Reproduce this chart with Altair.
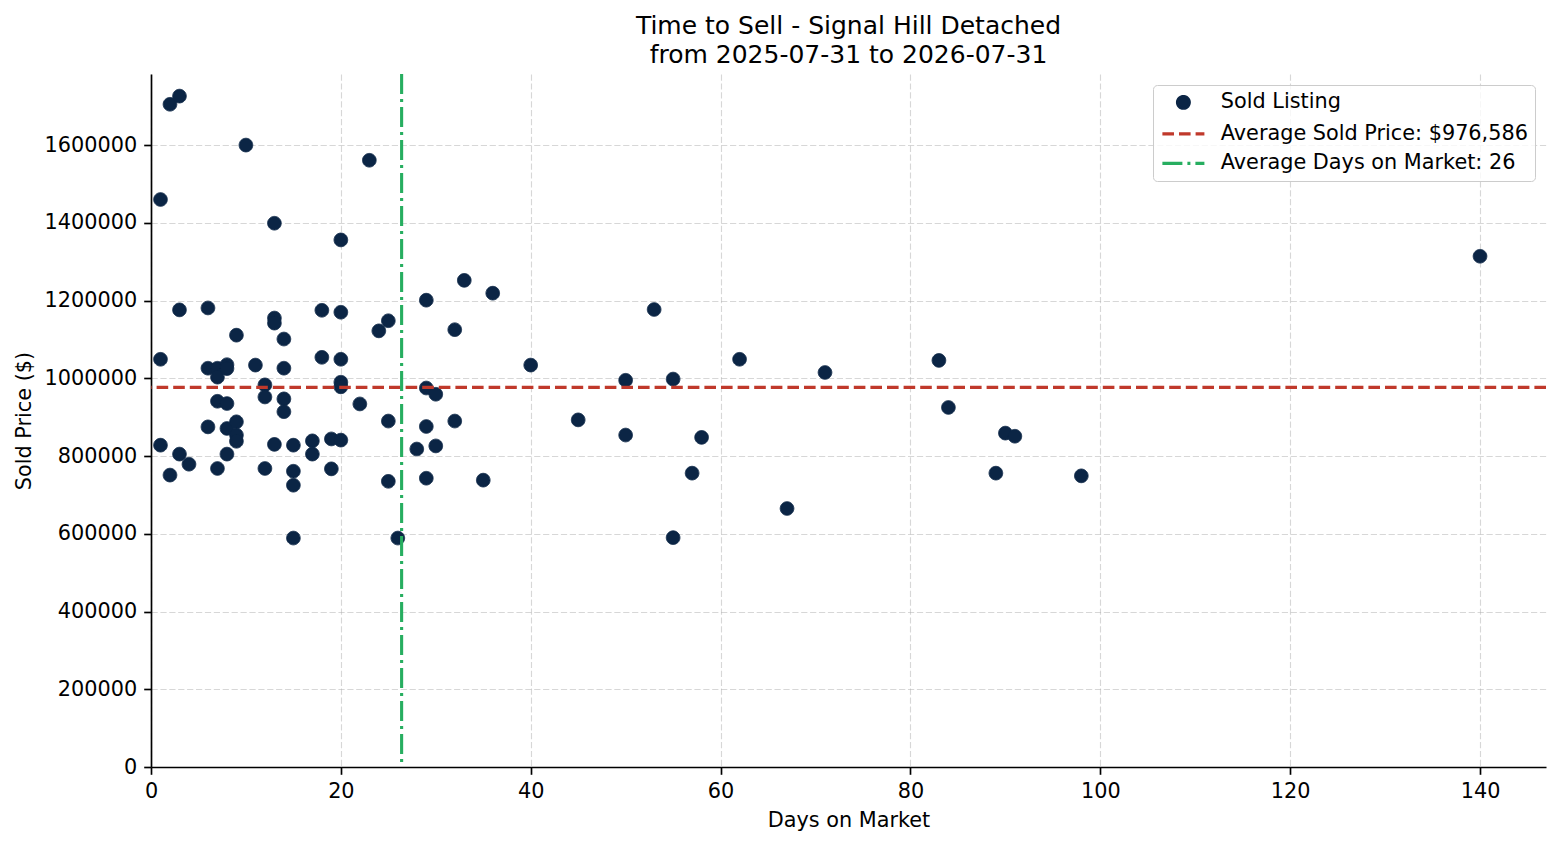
import altair as alt
import pandas as pd

# ---- data ----
days = [1, 1, 1, 2, 2, 3, 3, 3, 4,
        6, 6, 6, 7, 7, 7, 7, 8, 8, 8, 8, 8,
        9, 9, 9, 9, 10, 11, 12, 12, 12,
        13, 13, 13, 13, 14, 14, 14, 14, 15, 15, 15, 15,
        17, 17, 18, 18, 19, 19, 20, 20, 20, 20, 20, 20,
        22, 23, 24, 25, 25, 25, 26, 28, 29, 29, 29, 29,
        30, 30, 32, 32, 33, 35, 36, 40, 45, 50, 50, 53,
        55, 55, 57, 58, 62, 67, 71, 83, 84, 89, 90, 91, 98, 140]
prices = [1460000, 1049000, 828000, 1705000, 751000, 1726000, 1176000, 805000, 779000,
          1181000, 1026000, 875000, 1026000, 1003000, 941000, 768000, 1035000, 1025000, 935000, 871000, 805000,
          1111000, 888000, 854000, 838000, 1600000, 1034000, 983000, 952000, 768000,
          1399000, 1155000, 1142000, 830000, 1101000, 1026000, 947000, 914000, 828000, 761000, 725000, 589000,
          839000, 805000, 1175000, 1054000, 844000, 767000, 1356000, 1170000, 1049000, 990000, 978000, 841000,
          934000, 1561000, 1122000, 1148000, 890000, 735000, 589000, 818000, 1201000, 975000, 876000, 743000,
          959000, 826000, 1125000, 890000, 1252000, 738000, 1219000, 1034000, 893000, 995000, 854000, 1177000,
          998000, 590000, 756000, 848000, 1049000, 665000, 1015000, 1046000, 925000, 756000, 859000, 851000, 749000, 1314000]

SERIES = ["Sold Listing", "Average Sold Price: $976,586", "Average Days on Market: 26"]
COLORS = ["#0b2545", "#c0392b", "#27ae60"]
AVG_PRICE = [976586]
AVG_DAYS = [26.4]

TITLE = ["Time to Sell - Signal Hill Detached", "from 2025-07-31 to 2026-07-31"]
X_TICKS = [0, 20, 40, 60, 80, 100, 120, 140]
Y_TICKS = [0, 200000, 400000, 600000, 800000, 1000000, 1200000, 1400000, 1600000]
X_DOMAIN = [0, 146.95]
Y_DOMAIN = [0, 1782850]

# legend symbol styles (one per series)
LINE_PATH = "M-3.55,0L3.55,0"
SHAPES = ["circle", LINE_PATH, LINE_PATH]
DASHES = [[1, 0], [11.6, 5], [20, 5, 3, 5]]

FONT = "DejaVu Sans"
FS = 20.8

pts = pd.DataFrame({"days": days, "price": prices, "series": SERIES[0]})
hdf = pd.DataFrame({"price": AVG_PRICE})
vdf = pd.DataFrame({"days": AVG_DAYS})

x_scale = alt.Scale(domain=X_DOMAIN, nice=False, zero=False)
y_scale = alt.Scale(domain=Y_DOMAIN, nice=False, zero=False)

x_axis = alt.Axis(title="Days on Market", values=X_TICKS, format="d", titlePadding=9)
y_axis = alt.Axis(title="Sold Price ($)", values=Y_TICKS, format="d", titlePadding=10)


def make_legend():
    return alt.Legend(
        title=None, orient="top-right", offset=11, padding=7,
        fillColor="rgba(255,255,255,0.8)", strokeColor="#cccccc", cornerRadius=4,
        labelFont=FONT, labelFontSize=FS, labelColor="black", labelOffset=27,
        labelLimit=600, symbolOffset=13, symbolSize=140, rowPadding=7.5,
        symbolStrokeWidth=3.1, symbolFillColor=COLORS[0],
    )


points = alt.Chart(pts).mark_point(filled=False, size=185, strokeWidth=1, opacity=1).encode(
    x=alt.X("days:Q", scale=x_scale, axis=x_axis),
    y=alt.Y("price:Q", scale=y_scale, axis=y_axis),
    color=alt.Color("series:N", scale=alt.Scale(domain=SERIES, range=COLORS), legend=make_legend()),
    shape=alt.Shape("series:N", scale=alt.Scale(domain=SERIES, range=SHAPES), legend=make_legend()),
    strokeDash=alt.StrokeDash("series:N", scale=alt.Scale(domain=SERIES, range=DASHES), legend=make_legend()),
    fill=alt.value(COLORS[0]),
)

hline = alt.Chart(hdf).mark_rule(color=COLORS[1], strokeWidth=3.1, strokeDash=[11.6, 5]).encode(
    y=alt.Y("price:Q", scale=y_scale)
)
vline = alt.Chart(vdf).mark_rule(color=COLORS[2], strokeWidth=3.1, strokeDash=[20, 5, 3, 5]).encode(
    x=alt.X("days:Q", scale=x_scale)
)

chart = alt.layer(points, hline, vline).properties(
    width=1395,
    height=693,
    autosize=alt.AutoSizeParams(type="none"),
    padding={"left": 143, "top": 66, "right": 6, "bottom": 68},
    title=alt.Title(
        text=TITLE, font=FONT, fontSize=25, fontWeight="normal", color="black",
        lineHeight=29, anchor="middle", offset=4,
    ),
).configure_view(stroke=None).configure_axis(
    domainColor="black", domainWidth=1.67,
    tickColor="black", tickWidth=1.67, tickSize=7.3,
    labelPadding=7, labelFlush=False, labelFont=FONT, labelFontSize=FS, labelColor="black",
    titleFont=FONT, titleFontSize=FS, titleFontWeight="normal", titleColor="black",
    grid=True, gridColor="#b0b0b0", gridOpacity=0.5, gridWidth=1.1, gridDash=[6.2, 2.7],
)

chart.save("out.html", embed_options={"renderer": "svg", "actions": False})
